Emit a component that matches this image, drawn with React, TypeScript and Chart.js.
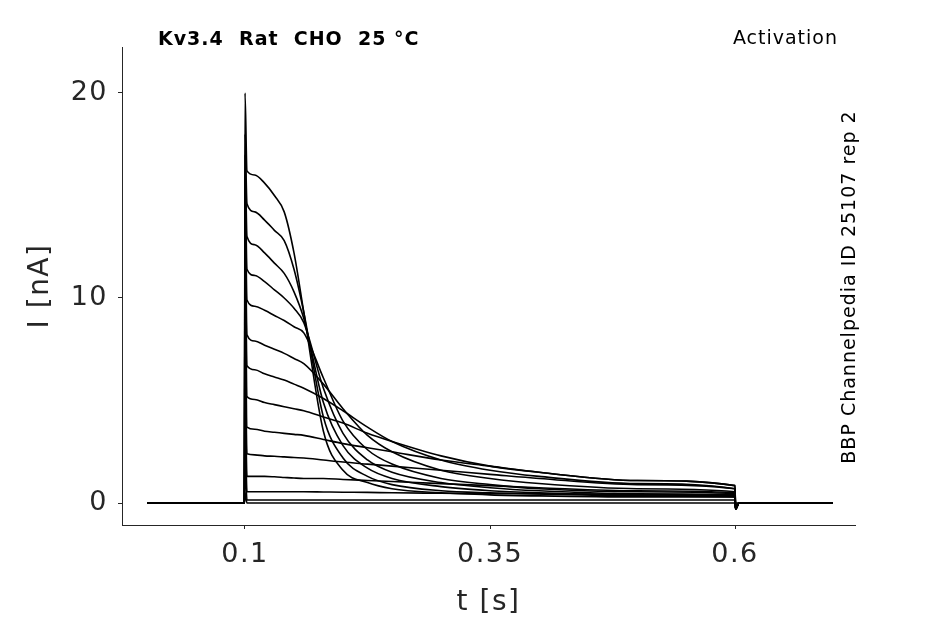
import { useEffect, useRef } from "react"
import { Chart, registerables } from "chart.js"

Chart.register(...registerables)

// sample times [s]
const times = [0, 0.0995, 0.1, 0.102, 0.11, 0.12, 0.13, 0.14, 0.15, 0.16, 0.18, 0.2, 0.225, 0.25, 0.3, 0.35, 0.4, 0.5, 0.6, 0.6005, 0.604, 0.7]

// current traces [nA] at the sample times
const trace1 = [0, 0, 20, 16.2, 16.0, 15.6, 15.0, 14.2, 12.2, 9.3, 3.5, 1.6, 1.0, 0.7, 0.5, 0.4, 0.35, 0.3, 0.3, -0.3, 0, 0]
const trace2 = [0, 0, 18, 14.6, 14.2, 13.8, 13.3, 12.8, 11.4, 9.3, 4.2, 2.2, 1.3, 0.9, 0.6, 0.5, 0.45, 0.35, 0.3, -0.3, 0, 0]
const trace3 = [0, 0, 17, 13.0, 12.6, 12.2, 11.7, 11.2, 10.3, 9.0, 4.9, 2.8, 1.7, 1.2, 0.8, 0.6, 0.5, 0.4, 0.35, -0.3, 0, 0]
const trace4 = [0, 0, 16, 11.4, 11.1, 10.8, 10.4, 10.0, 9.5, 8.8, 5.6, 3.4, 2.1, 1.5, 1.0, 0.75, 0.6, 0.45, 0.4, -0.3, 0, 0]
const trace5 = [0, 0, 15, 9.9, 9.6, 9.4, 9.15, 8.9, 8.6, 8.3, 6.1, 4.0, 2.6, 1.9, 1.2, 0.9, 0.7, 0.55, 0.45, -0.3, 0, 0]
const trace6 = [0, 0, 14, 8.2, 7.9, 7.7, 7.5, 7.3, 7.05, 6.8, 5.8, 4.6, 3.3, 2.5, 1.6, 1.2, 0.95, 0.7, 0.55, -0.3, 0, 0]
const trace7 = [0, 0, 13, 6.7, 6.5, 6.3, 6.15, 6.0, 5.8, 5.6, 5.1, 4.5, 3.7, 3.0, 2.1, 1.6, 1.3, 0.95, 0.7, -0.3, 0, 0]
const trace8 = [0, 0, 12, 5.2, 5.05, 4.9, 4.8, 4.7, 4.6, 4.5, 4.2, 3.9, 3.4, 3.0, 2.3, 1.8, 1.5, 1.1, 0.85, -0.3, 0, 0]
const trace9 = [0, 0, 10, 3.7, 3.6, 3.5, 3.45, 3.4, 3.35, 3.3, 3.1, 2.9, 2.7, 2.5, 2.1, 1.8, 1.5, 1.1, 0.85, -0.3, 0, 0]
const trace10 = [0, 0, 8, 2.4, 2.35, 2.3, 2.28, 2.25, 2.22, 2.2, 2.1, 2.0, 1.9, 1.8, 1.6, 1.4, 1.2, 0.9, 0.7, -0.3, 0, 0]
const trace11 = [0, 0, 6, 1.3, 1.3, 1.3, 1.28, 1.25, 1.22, 1.2, 1.2, 1.15, 1.1, 1.05, 0.95, 0.85, 0.75, 0.6, 0.5, -0.3, 0, 0]
const trace12 = [0, 0, 4, 0.55, 0.55, 0.55, 0.55, 0.55, 0.55, 0.55, 0.54, 0.53, 0.52, 0.5, 0.48, 0.46, 0.45, 0.42, 0.4, -0.2, 0, 0]
const trace13 = [0, 0, 2, 0.15, 0.15, 0.15, 0.15, 0.15, 0.15, 0.15, 0.15, 0.15, 0.15, 0.15, 0.15, 0.15, 0.15, 0.15, 0.15, -0.1, 0, 0]
const trace14 = [0, 0, 0.5, 0, 0, 0, 0, 0, 0, 0, 0, 0, 0, 0, 0, 0, 0, 0, 0, 0, 0, 0]

const traces = [trace1, trace2, trace3, trace4, trace5, trace6, trace7, trace8, trace9, trace10, trace11, trace12, trace13, trace14]

const xTicks = [0.1, 0.35, 0.6]
const yTicks = [0, 10, 20]

const axisColor = "#262626"
const font = "'DejaVu Sans', sans-serif"

const labelsPlugin = {
  id: "labels",
  beforeDraw(chart: Chart) {
    ;(chart.ctx as any).letterSpacing = "1.5px"
  },
  afterDraw(chart: Chart) {
    const ctx = chart.ctx as any
    ctx.save()
    ctx.letterSpacing = "1px"
    ctx.fillStyle = "#000"
    ctx.textBaseline = "middle"
    ctx.font = `bold 19px ${font}`
    ctx.textAlign = "left"
    ctx.fillText("Kv3.4  Rat  CHO  25 °C", 158, 40)
    ctx.font = `19px ${font}`
    ctx.textAlign = "right"
    ctx.fillText("Activation", 838, 39)
    ctx.translate(850, 287)
    ctx.rotate(-Math.PI / 2)
    ctx.textAlign = "center"
    ctx.fillText("BBP Channelpedia ID 25107 rep 2", 0, 0)
    ctx.restore()
  },
}

export default function App() {
  const canvasRef = useRef<HTMLCanvasElement>(null)

  useEffect(() => {
    document.body.style.margin = "0"
    if (!canvasRef.current) return
    const chart = new Chart(canvasRef.current, {
      type: "line",
      data: {
        datasets: traces.map((tr, i) => ({
          label: "trace " + (i + 1),
          data: times.map((t, j) => ({ x: t, y: tr[j] })),
          borderColor: "#000",
          borderWidth: 1.6,
          pointRadius: 0,
          cubicInterpolationMode: "monotone" as const,
        })),
      },
      options: {
        animation: false,
        responsive: false,
        layout: { padding: { left: 0, top: 47, right: 90, bottom: 0 } },
        plugins: { legend: { display: false }, tooltip: { enabled: false } },
        scales: {
          x: {
            type: "linear",
            min: -0.0255,
            max: 0.7224,
            afterBuildTicks: (s: any) => { s.ticks = xTicks.map((v) => ({ value: v })) },
            afterFit: (s: any) => { s.height = 99 },
            ticks: { color: axisColor, font: { family: font, size: 27 }, padding: 10, callback: (v: any) => String(v) },
            grid: { drawOnChartArea: false, tickLength: 4, color: axisColor },
            border: { color: axisColor, width: 1 },
            title: { display: true, text: "t [s]", color: axisColor, font: { family: font, size: 28 }, padding: { top: 0, bottom: 4 } },
          },
          y: {
            min: -1.07,
            max: 22.24,
            afterBuildTicks: (s: any) => { s.ticks = yTicks.map((v) => ({ value: v })) },
            afterFit: (s: any) => { s.width = 122 },
            ticks: { color: axisColor, font: { family: font, size: 27 }, padding: 10 },
            grid: { drawOnChartArea: false, tickLength: 4, color: axisColor },
            border: { color: axisColor, width: 1 },
            title: { display: true, text: "I [nA]", color: axisColor, font: { family: font, size: 28 }, padding: { top: 24, bottom: 0 } },
          },
        },
      },
      plugins: [labelsPlugin],
    })
    return () => chart.destroy()
  }, [])

  return <canvas ref={canvasRef} width={945} height={624} style={{ display: "block" }} />
}
